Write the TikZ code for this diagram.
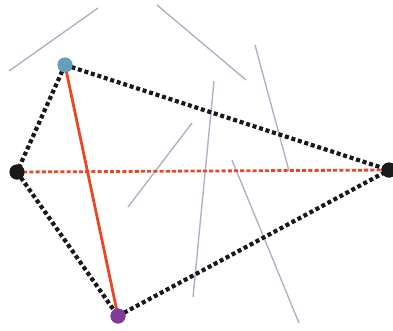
\documentclass[tikz,border=0pt]{standalone}
\definecolor{stickc}{RGB}{178,176,198}
\definecolor{tealc}{RGB}{100,160,185}
\definecolor{purc}{RGB}{128,60,150}
\definecolor{redc}{RGB}{238,70,35}
\begin{document}
\begin{tikzpicture}[x=1pt,y=-1pt,
  stick/.style={line width=1.4pt,draw=stickc},
  blackdot/.style={line width=4.2pt,draw=black!90,dash pattern=on 4pt off 2.8pt},
  reddash/.style={line width=2.8pt,draw=redc,dash pattern=on 4pt off 2.2pt},
  redsolid/.style={line width=2.8pt,draw=redc},
  vert/.style={circle,inner sep=0pt,minimum size=15pt}]
\useasboundingbox (0,0) rectangle (393,330);
% sticks
\coordinate (s1a) at (9,71); \coordinate (s1b) at (98,8);
\coordinate (s2a) at (157,5); \coordinate (s2b) at (246,80);
\coordinate (s3a) at (255,45); \coordinate (s3b) at (289,171);
\coordinate (s4a) at (214,81); \coordinate (s4b) at (193,297);
\coordinate (s5a) at (232,160); \coordinate (s5b) at (299,323);
\coordinate (s6a) at (192,123); \coordinate (s6b) at (128,207);
\foreach \i in {1,...,6} {\draw[stick] (s\i a) -- (s\i b);}
% vertices
\node[vert,fill=tealc] (B) at (65,65) {};
\node[vert,fill=black!90] (L) at (17,172) {};
\node[vert,fill=black!90] (R) at (389,170) {};
\node[vert,fill=purc] (P) at (118,316) {};
% edges
\draw[blackdot] (B.center) -- (L.center);
\draw[blackdot] (B.center) -- (R.center);
\draw[blackdot] (L.center) -- (P.center);
\draw[blackdot] (P.center) -- (R.center);
\draw[reddash] (L.center) -- (R.center);
\draw[redsolid] (B.center) -- (P.center);
% redraw vertices on top
\node[vert,fill=tealc] at (B) {};
\node[vert,fill=black!90] at (L) {};
\node[vert,fill=black!90] at (R) {};
\node[vert,fill=purc] at (P) {};
\end{tikzpicture}
\end{document}
